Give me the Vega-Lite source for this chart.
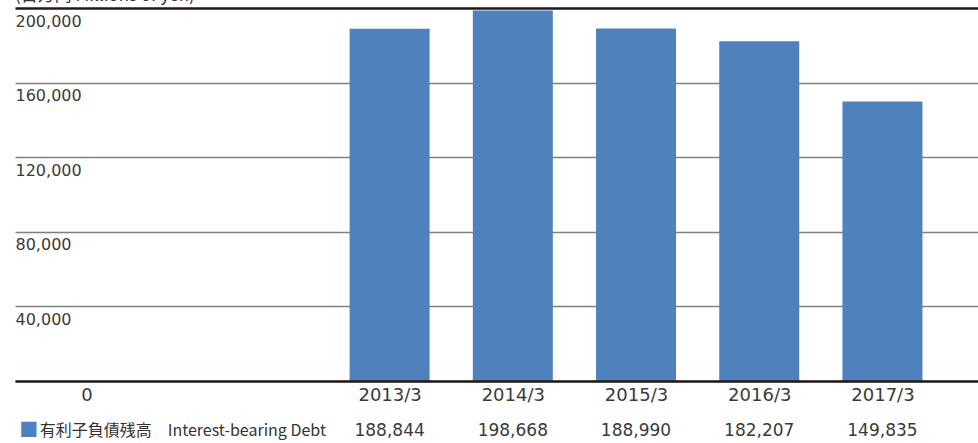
{
  "$schema": "https://vega.github.io/schema/vega-lite/v6.json",
  "width": 963,
  "height": 373,
  "autosize": {"type": "none"},
  "padding": {"left": 15, "top": 8, "right": 0, "bottom": 62},
  "background": "white",
  "config": {
    "view": {"stroke": null},
    "font": "DejaVu Sans",
    "text": {"font": "DejaVu Sans"}
  },
  "title": {
    "text": "(百万円  Millions of yen)",
    "anchor": "start",
    "frame": "group",
    "font": "Noto Sans CJK JP",
    "fontSize": 17,
    "fontWeight": "normal",
    "color": "#333333",
    "baseline": "alphabetic",
    "offset": 2,
    "dy": 12
  },
  "datasets": {
    "debt": [
      {"period": "2013/3", "year": 2013, "debt": 188844},
      {"period": "2014/3", "year": 2014, "debt": 198668},
      {"period": "2015/3", "year": 2015, "debt": 188990},
      {"period": "2016/3", "year": 2016, "debt": 182207},
      {"period": "2017/3", "year": 2017, "debt": 149835}
    ]
  },
  "layer": [
    {
      "data": {"name": "debt"},
      "mark": {"type": "bar", "width": 80, "color": "#4f81bd"},
      "encoding": {
        "x": {
          "field": "year",
          "type": "quantitative",
          "scale": {"domain": [2010, 2017.735], "nice": false, "zero": false},
          "axis": {
            "title": null,
            "values": [2010.54, 2013, 2014, 2015, 2016, 2017],
            "labelExpr": "datum.value < 2012 ? '0' : datum.value + '/3'",
            "grid": false,
            "ticks": false,
            "tickSize": 0,
            "labelPadding": 5,
            "labelFontSize": 18,
            "labelColor": "#3a3a3a",
            "labelFont": "DejaVu Sans",
            "labelFlush": false,
            "labelOverlap": false,
            "domainColor": "#231815",
            "domainWidth": 2.5,
            "zindex": 2
          }
        },
        "y": {
          "field": "debt",
          "type": "quantitative",
          "scale": {"domain": [0, 200000], "nice": false},
          "axis": {
            "title": null,
            "values": [0, 40000, 80000, 120000, 160000, 200000],
            "labelExpr": "datum.value == 0 ? '' : format(datum.value, ',')",
            "domain": false,
            "ticks": false,
            "tickSize": 0,
            "labelAlign": "left",
            "labelBaseline": "top",
            "labelPadding": 0,
            "labelOffset": 5,
            "labelFontSize": 16,
            "labelColor": "#3a3a3a",
            "labelFont": "DejaVu Sans",
            "labelOverlap": false,
            "grid": true,
            "gridColor": {"condition": {"test": "datum.value == 200000", "value": "#231815"}, "value": "#808080"},
            "gridWidth": {"condition": {"test": "datum.value == 200000", "value": 2.5}, "value": 1.3},
            "zindex": 0
          }
        }
      }
    },
    {
      "data": {"name": "debt"},
      "mark": {"type": "text", "baseline": "middle", "align": "center", "dy": 50, "fontSize": 17, "color": "#3a3a3a"},
      "encoding": {
        "x": {"field": "year", "type": "quantitative"},
        "y": {"datum": 0},
        "text": {"field": "debt", "type": "quantitative", "format": ","}
      }
    },
    {
      "data": {"values": [{"pos": 2010.072, "label": "■"}]},
      "mark": {"type": "text", "baseline": "middle", "align": "center", "dy": 50, "fontSize": 19, "font": "Noto Sans CJK JP", "color": "#4f81bd"},
      "encoding": {
        "x": {"field": "pos", "type": "quantitative"},
        "y": {"datum": 0},
        "text": {"field": "label"}
      }
    },
    {
      "data": {"values": [{"pos": 2010.16, "label": "有利子負債残高　Interest-bearing Debt"}]},
      "mark": {"type": "text", "baseline": "middle", "align": "left", "dy": 50, "fontSize": 16, "font": "Noto Sans CJK JP", "color": "#333333"},
      "encoding": {
        "x": {"field": "pos", "type": "quantitative"},
        "y": {"datum": 0},
        "text": {"field": "label"}
      }
    }
  ]
}
